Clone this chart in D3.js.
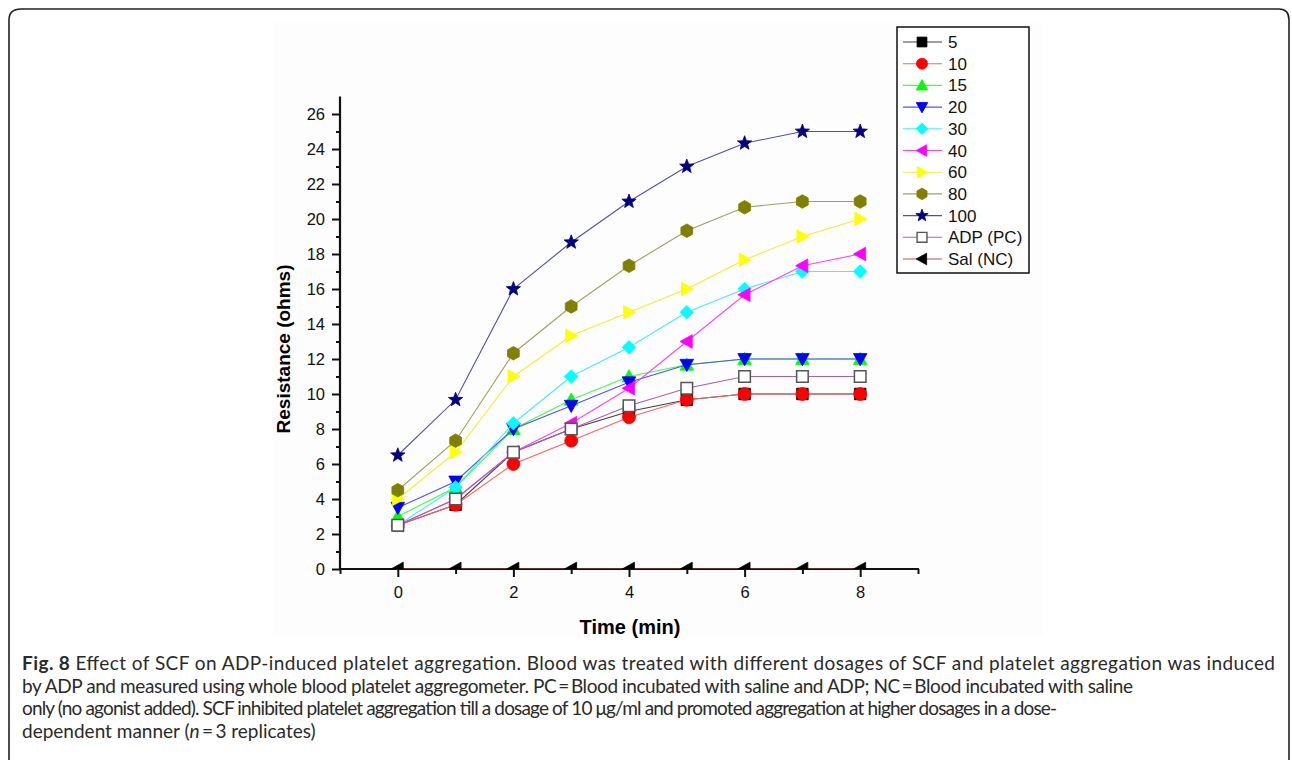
<!DOCTYPE html>
<html>
<head>
<meta charset="utf-8">
<script src="https://cdn.jsdelivr.net/npm/d3@7"></script>
<style>
  body { margin: 0; background: #fff; }
  svg { display: block; }
</style>
</head>
<body>
<svg id="chart" width="1292" height="760"></svg>
<script>
// time points (min)
var times = [0, 1, 2, 3, 4, 5, 6, 7, 8];

// resistance (ohms) per dosage
var dose5   = [2.5, 3.67, 6.67, 8, 9, 9.67, 10, 10, 10];
var dose10  = [2.5, 3.67, 6, 7.33, 8.67, 9.67, 10, 10, 10];
var dose15  = [3, 4.67, 8, 9.67, 11, 11.67, 12, 12, 12];
var dose20  = [3.5, 5, 8, 9.33, 10.67, 11.67, 12, 12, 12];
var dose30  = [2.5, 4.67, 8.33, 11, 12.67, 14.67, 16, 17, 17];
var dose40  = [2.5, 4, 6.67, 8.33, 10.33, 13, 15.67, 17.33, 18];
var dose60  = [4, 6.67, 11, 13.33, 14.67, 16, 17.67, 19, 20];
var dose80  = [4.5, 7.33, 12.33, 15, 17.33, 19.33, 20.67, 21, 21];
var dose100 = [6.5, 9.67, 16, 18.67, 21, 23, 24.33, 25, 25];
var adpPC   = [2.5, 4, 6.67, 8, 9.33, 10.33, 11, 11, 11];
var salNC   = [0, 0, 0, 0, 0, 0, 0, 0, 0];

var seriesNames = ["5", "10", "15", "20", "30", "40", "60", "80", "100", "ADP (PC)", "Sal (NC)"];
var seriesValues = [dose5, dose10, dose15, dose20, dose30, dose40, dose60, dose80, dose100, adpPC, salNC];

var yMajorTicks = [0, 2, 4, 6, 8, 10, 12, 14, 16, 18, 20, 22, 24, 26];
var xMajorTicks = [0, 2, 4, 6, 8];

var captionLines = [
  "Effect of SCF on ADP-induced platelet aggregation. Blood was treated with different dosages of SCF and platelet aggregation was induced",
  "by ADP and measured using whole blood platelet aggregometer. PC\u2009=\u2009Blood incubated with saline and ADP; NC\u2009=\u2009Blood incubated with saline",
  "only (no agonist added). SCF inhibited platelet aggregation till a dosage of 10 \u03bcg/ml and promoted aggregation at higher dosages in a dose-",
  "dependent manner ("
];

// styles per series
var styles = [
  {shape: "square",   fill: "#000000", stroke: "#000000", line: "#404040"},
  {shape: "circle",   fill: "#ff0000", stroke: "#ff0000", line: "#ff6060"},
  {shape: "triUp",    fill: "#00ff00", stroke: "#00ff00", line: "#40ff40"},
  {shape: "triDown",  fill: "#0000ff", stroke: "#0000ff", line: "#5050ff"},
  {shape: "diamond",  fill: "#00ffff", stroke: "#00ffff", line: "#40f0f0"},
  {shape: "triLeft",  fill: "#ff00ff", stroke: "#ff00ff", line: "#ff40ff"},
  {shape: "triRight", fill: "#ffff00", stroke: "#ffff00", line: "#f0f030"},
  {shape: "hexagon",  fill: "#808000", stroke: "#808000", line: "#a0a060"},
  {shape: "star",     fill: "#000080", stroke: "#000080", line: "#5050a8"},
  {shape: "square",   fill: "#ffffff", stroke: "#555555", line: "#a860b0"},
  {shape: "triLeft",  fill: "#000000", stroke: "#000000", line: "#b85050"}
];

function markerPath(shape, r) {
  var p = d3.path(), i, a;
  if (shape === "square") {
    p.rect(-r * 0.85, -r * 0.85, r * 1.7, r * 1.7);
  } else if (shape === "circle") {
    p.arc(0, 0, r * 0.95, 0, 2 * Math.PI);
  } else if (shape === "triUp") {
    p.moveTo(0, -r); p.lineTo(r, r * 0.8); p.lineTo(-r, r * 0.8); p.closePath();
  } else if (shape === "triDown") {
    p.moveTo(0, r); p.lineTo(r, -r * 0.8); p.lineTo(-r, -r * 0.8); p.closePath();
  } else if (shape === "triLeft") {
    p.moveTo(-r, 0); p.lineTo(r * 0.8, -r); p.lineTo(r * 0.8, r); p.closePath();
  } else if (shape === "triRight") {
    p.moveTo(r, 0); p.lineTo(-r * 0.8, -r); p.lineTo(-r * 0.8, r); p.closePath();
  } else if (shape === "diamond") {
    p.moveTo(0, -r); p.lineTo(r, 0); p.lineTo(0, r); p.lineTo(-r, 0); p.closePath();
  } else if (shape === "hexagon") {
    for (i = 0; i < 6; i++) {
      a = Math.PI / 6 + i * Math.PI / 3;
      if (i === 0) p.moveTo(r * Math.cos(a), r * Math.sin(a));
      else p.lineTo(r * Math.cos(a), r * Math.sin(a));
    }
    p.closePath();
  } else if (shape === "star") {
    for (i = 0; i < 10; i++) {
      a = -Math.PI / 2 + i * Math.PI / 5;
      var rr = i % 2 === 0 ? r : r * 0.42;
      if (i === 0) p.moveTo(rr * Math.cos(a), rr * Math.sin(a));
      else p.lineTo(rr * Math.cos(a), rr * Math.sin(a));
    }
    p.closePath();
  }
  return p.toString();
}

var svg = d3.select("#chart");
var font = "'Liberation Sans', Arial, sans-serif";

// outer frame, open at the bottom
var frame = d3.path();
frame.moveTo(9, 770);
frame.lineTo(9, 20);
frame.quadraticCurveTo(9, 9, 21, 9);
frame.lineTo(1279, 9);
frame.quadraticCurveTo(1289, 9, 1289, 20);
frame.lineTo(1289, 770);
svg.append("path").attr("d", frame.toString())
  .attr("fill", "none").attr("stroke", "#222").attr("stroke-width", 1.6);

// faint figure background
svg.append("rect").attr("x", 273).attr("y", 22).attr("width", 770).attr("height", 615)
  .attr("fill", "#fdfdfd");

var x = d3.scaleLinear().domain([-1, 9]).range([340, 918]);
var y = d3.scaleLinear().domain([0, 27]).range([569, 96.5]);

svg.append("clipPath").attr("id", "plotClip")
  .append("rect").attr("x", 340).attr("y", 90).attr("width", 580).attr("height", 479);

var g = svg.append("g");

// y axis
var yMinor = d3.range(1, 27, 2);
g.append("g").attr("transform", "translate(340,0)")
  .call(d3.axisLeft(y).tickValues(yMinor).tickSize(4).tickSizeOuter(0).tickFormat(""))
  .call(function (s) { s.select(".domain").remove(); s.selectAll("line").attr("stroke-width", 2).attr("stroke", "#111"); });
g.append("g").attr("transform", "translate(340,0)")
  .call(d3.axisLeft(y).tickValues(yMajorTicks).tickSize(8).tickPadding(7).tickSizeOuter(0))
  .call(function (s) {
    s.select(".domain").remove();
    s.selectAll("line").attr("stroke-width", 2).attr("stroke", "#111");
    s.selectAll("text").attr("font-family", font).attr("font-size", 16.5).attr("fill", "#111");
  });

// x axis
var xMinor = [-1, 1, 3, 5, 7, 9];
g.append("g").attr("transform", "translate(0,569)")
  .call(d3.axisBottom(x).tickValues(xMinor).tickSize(5).tickSizeOuter(0).tickFormat(""))
  .call(function (s) { s.select(".domain").remove(); s.selectAll("line").attr("stroke-width", 2).attr("stroke", "#111"); });
g.append("g").attr("transform", "translate(0,569)")
  .call(d3.axisBottom(x).tickValues(xMajorTicks).tickSize(8).tickPadding(9).tickSizeOuter(0))
  .call(function (s) {
    s.select(".domain").remove();
    s.selectAll("line").attr("stroke-width", 2).attr("stroke", "#111");
    s.selectAll("text").attr("font-family", font).attr("font-size", 16.5).attr("fill", "#111");
  });

// axis lines
g.append("line").attr("x1", 340).attr("x2", 340).attr("y1", y(27)).attr("y2", 570)
  .attr("stroke", "#111").attr("stroke-width", 2.2);
g.append("line").attr("x1", 339).attr("x2", 919).attr("y1", 569).attr("y2", 569)
  .attr("stroke", "#111").attr("stroke-width", 2.2);

// axis titles
svg.append("text").attr("x", 630).attr("y", 634).attr("text-anchor", "middle")
  .attr("font-family", font).attr("font-weight", "bold").attr("font-size", 20)
  .text("Time (min)");
svg.append("text").attr("transform", "translate(290,349) rotate(-90)").attr("text-anchor", "middle")
  .attr("font-family", font).attr("font-weight", "bold").attr("font-size", 19)
  .text("Resistance (ohms)");

// series
var plot = svg.append("g").attr("clip-path", "url(#plotClip)");
var line = d3.line().x(function (d, i) { return x(times[i]); }).y(function (d) { return y(d); });

seriesValues.forEach(function (vals, k) {
  var st = styles[k];
  var sg = plot.append("g");
  sg.append("path").attr("d", line(vals)).attr("fill", "none")
    .attr("stroke", st.line).attr("stroke-width", 1.1);
  sg.selectAll("path.mk").data(vals).enter().append("path").attr("class", "mk")
    .attr("transform", function (d, i) { return "translate(" + x(times[i]) + "," + y(d) + ")"; })
    .attr("d", markerPath(st.shape, st.shape === "star" ? 7.5 : 6.8))
    .attr("fill", st.fill).attr("stroke", st.stroke)
    .attr("stroke-width", st.fill === "#ffffff" ? 1.5 : 0.8);
});

// legend
var lg = svg.append("g");
lg.append("rect").attr("x", 897).attr("y", 27).attr("width", 132).attr("height", 246)
  .attr("fill", "#fff").attr("stroke", "#111").attr("stroke-width", 1.5);
seriesNames.forEach(function (name, k) {
  var st = styles[k];
  var ly = 42 + k * 21.7;
  lg.append("line").attr("x1", 903).attr("x2", 942).attr("y1", ly).attr("y2", ly)
    .attr("stroke", st.line).attr("stroke-width", 1.1);
  lg.append("path").attr("transform", "translate(922," + ly + ")")
    .attr("d", markerPath(st.shape, st.shape === "star" ? 6.5 : 5.8))
    .attr("fill", st.fill).attr("stroke", st.stroke)
    .attr("stroke-width", st.fill === "#ffffff" ? 1.4 : 0.8);
  lg.append("text").attr("x", 948).attr("y", ly + 6)
    .attr("font-family", font).attr("font-size", 17).attr("fill", "#111")
    .text(name);
});

// caption: one size between what fits line 1 and line 2, lines fitted by spacing only
var capFont = "Lato, 'Open Sans', sans-serif";
var capY = [670, 692.5, 715, 737.5];
var capWidths = [1253, 1111, 1035];
var cap = svg.append("g").attr("font-family", capFont).attr("font-size", 17.5).attr("fill", "#2a2a2a");

var t1 = cap.append("text").attr("x", 22).attr("y", capY[0]);
t1.append("tspan").attr("font-weight", "bold").text("Fig. 8");
t1.append("tspan").text(" " + captionLines[0]);
var t2 = cap.append("text").attr("x", 22).attr("y", capY[1]).text(captionLines[1]);
var s1 = 17.5 * capWidths[0] / t1.node().getComputedTextLength();
var s2 = 17.5 * capWidths[1] / t2.node().getComputedTextLength();
cap.attr("font-size", (s1 + s2) / 2);

t1.attr("textLength", capWidths[0]).attr("lengthAdjust", "spacing");
t2.attr("textLength", capWidths[1]).attr("lengthAdjust", "spacing");
cap.append("text").attr("x", 22).attr("y", capY[2])
  .attr("textLength", capWidths[2]).attr("lengthAdjust", "spacing")
  .text(captionLines[2]);

var t4 = cap.append("text").attr("x", 22).attr("y", capY[3]);
t4.append("tspan").text(captionLines[3]);
t4.append("tspan").attr("font-style", "italic").text("n");
t4.append("tspan").text("\u2009=\u20093 replicates)");
</script>
</body>
</html>
